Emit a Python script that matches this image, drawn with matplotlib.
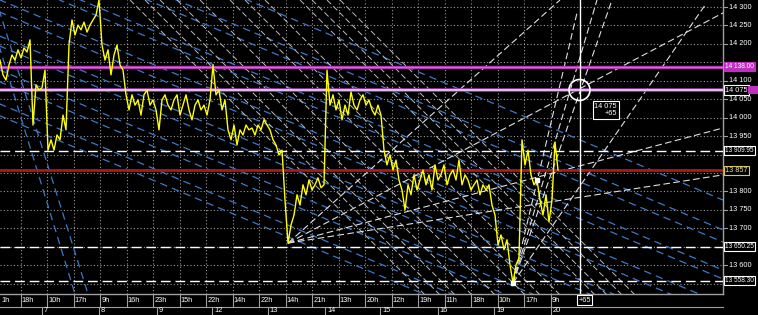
import matplotlib
matplotlib.use('Agg')
import matplotlib.pyplot as plt
import matplotlib.transforms as mtransforms
from matplotlib.patches import Ellipse, Rectangle
import numpy as np

# closing prices, one sample every 3 bars
bars = np.arange(0, 559, 3)
close = [14156, 14116, 14102, 14143, 14170, 14156, 14184, 14162, 14189, 14178,
         14211, 13980, 14089, 14075, 14081, 14129, 13912, 13940, 13912, 13953,
         13940, 14007, 13967, 14197, 14265, 14224, 14251, 14238, 14259, 14232,
         14251, 14265, 14278, 14319, 14197, 14156, 14184, 14116, 14170, 14197,
         14143, 14129, 14062, 14021, 14062, 14034, 14048, 14007, 14062, 14075,
         14034, 14048, 14021, 13967, 14048, 14062, 14034, 14021, 14048, 14062,
         14007, 14034, 14062, 14021, 13994, 14034, 14048, 14021, 14034, 14007,
         14048, 14143, 14062, 14075, 14021, 14048, 13967, 13940, 13980, 13926,
         13967, 13953, 13980, 13967, 13972, 13953, 13980, 13967, 13994, 13980,
         13967, 13940, 13926, 13899, 13912, 13777, 13660, 13709, 13736, 13791,
         13763, 13818, 13791, 13831, 13804, 13818, 13837, 13810, 13818, 14129,
         14034, 14062, 14021, 14048, 13994, 14034, 14007, 14070, 14034, 14021,
         14048, 14062, 14034, 14048, 14021, 14007, 14034, 14007, 13912, 13872,
         13899, 13858, 13885, 13831, 13804, 13750, 13818, 13791, 13845, 13804,
         13831, 13858, 13818, 13845, 13804, 13872, 13831, 13845, 13872, 13818,
         13845, 13858, 13831, 13885, 13818, 13845, 13831, 13804, 13818, 13831,
         13791, 13818, 13804, 13818, 13763, 13736, 13655, 13682, 13642, 13669,
         13601, 13552, 13601, 13620, 13940, 13872, 13912, 13845, 13818, 13831,
         13777, 13736, 13791, 13717, 13777, 13934, 13858]

price_ticks = np.arange(13550, 14301, 50)
time_ticks = 20.7 + 26.5 * np.arange(-1, 21)
time_labels = ['1h', '18h', '10h', '17h', '9h', '16h', '23h', '15h', '22h', '14h', '22h',
               '14h', '21h', '13h', '20h', '12h', '19h', '11h', '18h', '10h', '17h', '9h']
day_ticks = [41.7, 99, 156.7, 212.3, 267.7, 325, 380, 437.7, 494.3, 551]
day_labels = ['7', '8', '9', '12', '13', '14', '15', '16', '19', '20']

# horizontal levels
magenta_level = 14138.00
cursor_level = 14075.00
bid_level = 13857.00
dashed_levels = [13909.95, 13650.25, 13558.30]

# fans from the two lows (start bar, start price) -> list of end points
pivot_a = (288, 13660)
fan_a_ends = [(723, 14284), (723, 13972), (723, 13845), (560, 14319)]
pivot_b = (513, 13552)
fan_b_ends = [(577, 14284), (597, 14319), (612, 14319), (705, 14305)]

# falling white dashed lines: bar where each leaves the top of the chart
white_fall_starts = [130, 145, 160, 177, 200, 230, 245, 265, 300, 312, 327, 340]
white_fall_slope = -2.71
# blue channel lines: price at bar 0
blue_starts = [14601, 14520, 14487, 14411, 14387, 14319, 14286, 14221, 14194,
               14129, 14097, 14037, 14005]
blue_slope = -1.14
blue_steep = [((-4, 14319), (88, 13522)), ((-15, 14319), (75, 13522))]

cursor_bar = 579.5

W, H = 758, 315
fig = plt.figure(figsize=(W / 100, H / 100), dpi=100, facecolor='black')
ax = fig.add_axes([0, 21 / H, 723 / W, 294 / H], facecolor='black')
x0, x1 = 0, 723
y0, y1 = 13522, 14319
ax.set_xlim(x0, x1)
ax.set_ylim(y0, y1)
ax.set_xticks([])
ax.set_yticks([])
for s in ['left', 'top']:
    ax.spines[s].set_visible(False)
for s in ['right', 'bottom']:
    ax.spines[s].set_color('#a0a0a0')
    ax.spines[s].set_linewidth(1)

# grid
for p in price_ticks:
    ax.axhline(p, color='#9a9a9a', lw=0.8, ls=(0, (1, 2)), zorder=1)
for t in time_ticks:
    ax.axvline(t, color='#9a9a9a', lw=0.8, ls=(0, (1, 2)), zorder=1)

xx = np.array([x0 - 50, x1 + 50])
blue = '#3f78c8'
for b in blue_starts:
    ax.plot(xx, b + blue_slope * xx, color=blue, lw=0.9, ls=(0, (6, 4)), zorder=2)
for (a, b) in blue_steep:
    ax.plot([a[0], b[0]], [a[1], b[1]], color=blue, lw=0.9, ls=(0, (6, 4)), zorder=2)

for s in white_fall_starts:
    ax.plot([s, x1 + 50], [y1, y1 + white_fall_slope * (x1 + 50 - s)],
            color='#bcbcbc', lw=0.7, ls=(0, (6, 3)), zorder=2)

for e in fan_a_ends:
    ax.plot([pivot_a[0], e[0]], [pivot_a[1], e[1]], color='#e0e0e0', lw=0.8,
            ls=(0, (6, 3)), zorder=3)
for e in fan_b_ends:
    ax.plot([pivot_b[0], e[0]], [pivot_b[1], e[1]], color='#e0e0e0', lw=0.8,
            ls=(0, (6, 3)), zorder=3)

# levels
ax.axhline(magenta_level, color='#b03cb0', lw=2.4, zorder=4)
ax.axhline(magenta_level, color='#e070e0', lw=0.6, zorder=4)
ax.axhline(cursor_level, color='#a040b0', lw=2.6, zorder=4)
ax.axhline(cursor_level, color='#f4e4f4', lw=1.1, zorder=4)
ax.axhline(bid_level, color='#b01818', lw=2, zorder=4)
for lv in dashed_levels:
    ax.axhline(lv, color='white', lw=1, ls=(0, (7, 3.5)), zorder=4)

# price line
ax.plot(bars, close, color='#ffff00', lw=1, zorder=5)
ax.plot([pivot_b[0]], [pivot_b[1]], 's', color='white', ms=2.5, zorder=6)
ax.plot([537], [13831], 's', color='white', ms=2.5, zorder=6)

# cursor
ax.axvline(cursor_bar, color='white', lw=1, zorder=6)
ax.add_patch(Ellipse((cursor_bar, cursor_level), 21, 21 * 2.71, fill=False,
                     ec='white', lw=1.2, zorder=7))
fig.text(617 / W, 1 - 110 / H, '14 075\n+65', color='white', fontsize=5.3,
         family='Liberation Sans', ha='right', va='center', linespacing=1.0,
         bbox=dict(boxstyle='square,pad=0.25', fc='black', ec='white', lw=0.8))

# right price axis
tr_r = mtransforms.blended_transform_factory(ax.transAxes, ax.transData)
fnt = dict(family='Liberation Sans', fontsize=5.3)
fnt_box = dict(family='Liberation Sans', fontsize=4.7)
boxed = [magenta_level, cursor_level, bid_level] + dashed_levels


def fmt(p):
    return '%d %03d' % (int(p) // 1000, int(p) % 1000)


for p in price_ticks:
    ax.plot([1.0, 1.005], [p, p], color='#a0a0a0', lw=0.8, transform=tr_r, clip_on=False)
    if min(abs(p - b) for b in boxed) < 14:
        continue
    ax.text(1.008, p, fmt(p), color='white', va='center', ha='left', transform=tr_r, **fnt)

box = dict(boxstyle='square,pad=0.15', lw=0.8)
fig.patches.append(Rectangle((748 / W, 1 - 94 / H), 10 / W, 8 / H, fc='#c030c0',
                             ec='none', transform=fig.transFigure, figure=fig))
ax.text(1.003, magenta_level, '14 138.00', color='white', va='center', ha='left',
        transform=tr_r, bbox=dict(box, fc='#c030c0', ec='#c030c0'), zorder=10, **fnt_box)
ax.text(1.003, cursor_level, '14 075', color='white', va='center', ha='left',
        transform=tr_r, bbox=dict(box, fc='black', ec='white'), zorder=11, **fnt)
ax.text(1.003, bid_level, '13 857', color='#e8e0a0', va='center', ha='left',
        transform=tr_r, bbox=dict(box, fc='black', ec='#d8c860'), zorder=10, **fnt)
for lv in dashed_levels:
    ax.text(1.003, lv, '%s.%02d' % (fmt(lv), round(lv * 100) % 100), color='white',
            va='center', ha='left', transform=tr_r,
            bbox=dict(box, fc='black', ec='white'), zorder=10, **fnt_box)

# bottom time axis
tr_b = mtransforms.blended_transform_factory(ax.transData, fig.transFigure)
row1 = 1 - 306.5 / H
row2 = 1 - 315 / H
ax.plot([x0, x1], [row1, row1], color='#a0a0a0', lw=0.8, transform=tr_b, clip_on=False)
for t, lab in zip(time_ticks, time_labels):
    if t > 0:
        ax.plot([t, t], [1 - 294 / H, row1], color='#a0a0a0', lw=0.8,
                transform=tr_b, clip_on=False)
    ax.text(max(t, 0) + 1.2, 1 - 300.5 / H, lab, color='white', va='center', ha='left',
            transform=tr_b, **fnt)
for t, lab in zip(day_ticks, day_labels):
    ax.plot([t, t], [row1, row2], color='#a0a0a0', lw=0.8, transform=tr_b, clip_on=False)
    ax.text(t + 2, 1 - 311 / H, lab, color='white', va='center', ha='left',
            transform=tr_b, **fnt)
ax.text(cursor_bar + 5, 1 - 300 / H, '+65', color='white', va='center', ha='center',
        transform=tr_b, bbox=dict(box, fc='black', ec='white'), zorder=10, **fnt)

fig.savefig('out.png', dpi=100, facecolor='black')
